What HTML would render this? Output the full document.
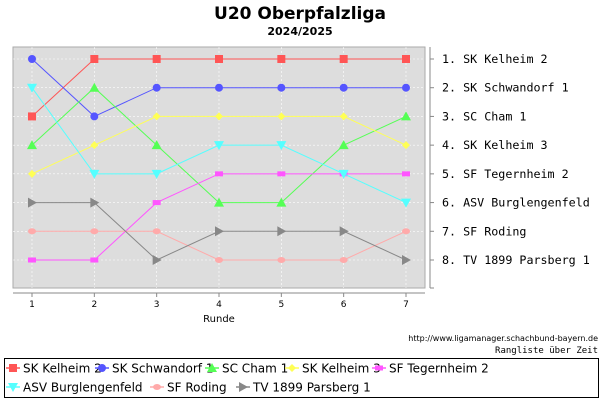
<!DOCTYPE html>
<html><head><meta charset="utf-8"><style>
body{margin:0;background:#fff;width:600px;height:400px;overflow:hidden;font-family:"DejaVu Sans","Liberation Sans",sans-serif}
</style></head><body>
<svg id="c" width="600" height="400" xmlns="http://www.w3.org/2000/svg">
<text x="300" y="19" text-anchor="middle" font-size="17" font-weight="bold" font-family="DejaVu Sans, sans-serif">U20 Oberpfalzliga</text>
<text x="300" y="35" text-anchor="middle" font-size="11" font-weight="bold" font-family="DejaVu Sans, sans-serif">2024/2025</text>
<rect x="13" y="47" width="412" height="241" fill="#dddddd" stroke="#aaaaaa"/>
<g id="grid"></g>
<line x1="13" y1="293" x2="425" y2="293" stroke="#888"/>
<line x1="430" y1="47" x2="430" y2="288" stroke="#888"/>
<g id="xt"></g><g id="yt"></g><g id="series"></g>
<text x="219" y="322" text-anchor="middle" font-size="10" font-family="DejaVu Sans, sans-serif">Runde</text>
<text x="598" y="341" text-anchor="end" font-size="8" font-family="DejaVu Sans, sans-serif">http://www.ligamanager.schachbund-bayern.de</text>
<text x="598" y="353" text-anchor="end" font-size="9" font-family="DejaVu Sans Mono, monospace">Rangliste über Zeit</text>
<rect x="4.5" y="358.5" width="594" height="39" fill="none" stroke="#000"/>
<g id="legend"></g>
</svg>
<script>
const rounds=[1,2,3,4,5,6,7];
const teams=["SK Kelheim 2","SK Schwandorf 1","SC Cham 1","SK Kelheim 3","SF Tegernheim 2","ASV Burglengenfeld","SF Roding","TV 1899 Parsberg 1"];
const rankKelheim2=[3,1,1,1,1,1,1];
const rankSchwandorf=[1,3,2,2,2,2,2];
const rankCham=[4,2,4,6,6,4,3];
const rankKelheim3=[5,4,3,3,3,3,4];
const rankTegernheim=[8,8,6,5,5,5,5];
const rankASV=[2,5,5,4,4,5,6];
const rankRoding=[7,7,7,8,8,8,7];
const rankParsberg=[6,6,8,7,7,7,8];
const finalLabels=["1. SK Kelheim 2","2. SK Schwandorf 1","3. SC Cham 1","4. SK Kelheim 3","5. SF Tegernheim 2","6. ASV Burglengenfeld","7. SF Roding","8. TV 1899 Parsberg 1"];
const seriesData=[rankKelheim2,rankSchwandorf,rankCham,rankKelheim3,rankTegernheim,rankASV,rankRoding,rankParsberg];
const colors=["#ff5555","#5555ff","#55ff55","#ffff55","#ff55ff","#55ffff","#ffaaaa","#888888"];
const shapes=["square","circle","up","diamond","rect","down","ellipse","right"];
const NS="http://www.w3.org/2000/svg";
const xs=r=>32+(r-1)*(406-32)/6;
const ys=k=>59+(k-1)*(260-59)/7;
function mk(t,a,p){const e=document.createElementNS(NS,t);for(const k in a)e.setAttribute(k,a[k]);p.appendChild(e);return e;}
const grid=document.getElementById('grid'),xt=document.getElementById('xt'),yt=document.getElementById('yt'),sg=document.getElementById('series'),lg=document.getElementById('legend');
rounds.forEach(r=>{
 const l=mk('line',{x1:xs(r),x2:xs(r),y1:47,y2:288,stroke:'#fff','stroke-dasharray':'2,2','stroke-width':0.6},grid);
 
 
 const t=mk('line',{x1:xs(r),x2:xs(r),y1:293,y2:297,stroke:'#888'},xt);
 
 
 const tx=mk('text',{x:xs(r),y:307,'text-anchor':'middle','font-size':9},xt);tx.textContent=r;
 
 
});
finalLabels.forEach((s,i)=>{
 const y=ys(i+1);
 const l=mk('line',{x1:13,x2:425,y1:y,y2:y,stroke:'#fff','stroke-dasharray':'2,2','stroke-width':0.6},grid);
 
 
 const t=mk('line',{x1:430,x2:434,y1:y,y2:y,stroke:'#888'},yt);
 
 
 const tx=mk('text',{x:442,y:y+4,'font-size':11.7,'font-family':'DejaVu Sans Mono, monospace'},yt);tx.textContent=s;
 
 
});
const yt2=mk('line',{x1:430,x2:434,y1:288,y2:288,stroke:'#888'},yt);


function marker(sh,x,y,c,p){
 let e;
 if(sh=='square')e=mk('rect',{x:x-4,y:y-4,width:8,height:8,fill:c},p);
 else if(sh=='circle')e=mk('circle',{cx:x,cy:y,r:4,fill:c},p);
 else if(sh=='up')e=mk('polygon',{points:`${x},${y-5} ${x+5},${y+4} ${x-5},${y+4}`,fill:c},p);
 else if(sh=='down')e=mk('polygon',{points:`${x},${y+5} ${x+5},${y-4} ${x-5},${y-4}`,fill:c},p);
 else if(sh=='diamond')e=mk('polygon',{points:`${x},${y-4} ${x+4},${y} ${x},${y+4} ${x-4},${y}`,fill:c},p);
 else if(sh=='rect')e=mk('rect',{x:x-4,y:y-2.5,width:8,height:5,fill:c},p);
 else if(sh=='ellipse')e=mk('ellipse',{cx:x,cy:y,rx:4,ry:3,fill:c},p);
 else e=mk('polygon',{points:`${x+5},${y} ${x-4},${y-5} ${x-4},${y+5}`,fill:c},p);
 return e;
}
seriesData.forEach((d,i)=>{
 const g=mk('g',{},sg);
 
 
 const pl=mk('polyline',{points:d.map((v,j)=>xs(rounds[j])+','+ys(v)).join(' '),fill:'none',stroke:colors[i],'stroke-width':1},g);
 
 
 d.forEach((v,j)=>{const m=marker(shapes[i],xs(rounds[j]),ys(v),colors[i],g);
  
  });
});
const lpos=[[6,368],[95,368],[205,368],[285,368],[372,368],[6,387],[150,387],[236,387]];
teams.forEach((t,i)=>{
 const [x,y]=lpos[i];
 const g=mk('g',{},lg);
 
 
 mk('line',{x1:x,x2:x+14,y1:y,y2:y,stroke:colors[i],'stroke-width':1.5},g);
 marker(shapes[i],x+7,y,colors[i],g);
 const tx=mk('text',{x:x+17,y:y+4.5,'font-size':12},g);tx.textContent=t;
});
</script>
</body></html>
